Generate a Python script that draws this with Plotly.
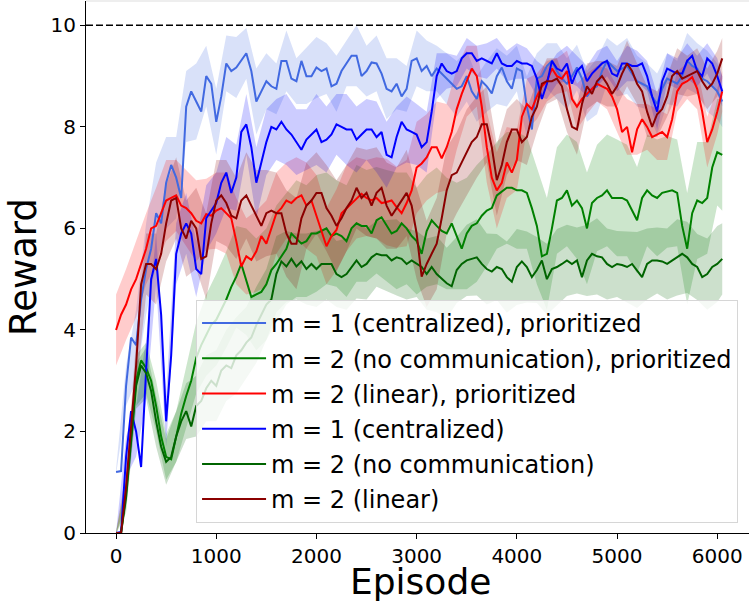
import plotly.graph_objects as go

# ---------------- data ----------------
EPISODE_STEP = 50          # mean curves sampled every 50 episodes (0 .. 6050)
X_TICKS = [0, 1000, 2000, 3000, 4000, 5000, 6000]
Y_TICKS = [0, 2, 4, 6, 8, 10]
TARGET_REWARD = 10

LABELS = [
    "m = 1 (centralized), prioritized",
    "m = 2 (no communication), prioritized",
    "m = 2 (linear), prioritized",
    "m = 1 (centralized)",
    "m = 2 (no communication)",
    "m = 2 (linear)",
]
COLORS = ["#4169E1", "#008000", "#FF0000", "#0000FF", "#006400", "#8B0000"]

central_prio = [
    1.2, 1.22, 2.9, 3.85, 3.7, 4.6, 5.2, 5.6, 6.3, 6.1,
    6.9, 7.25, 7.0, 6.6, 8.4, 8.7, 8.5, 8.3, 9.0, 8.85,
    8.1, 8.6, 9.25, 9.1, 9.17, 9.3, 9.45, 9.1, 8.5, 8.7,
    8.9, 8.8, 8.75, 9.3, 9.3, 8.95, 8.9, 9.3, 9.0, 9.0,
    9.17, 9.1, 9.15, 8.8, 8.85, 9.1, 9.25, 9.4, 9.4, 9.0,
    9.1, 9.27, 9.25, 9.05, 8.75, 8.7, 8.85, 8.6, 8.75, 9.3,
    9.35, 9.1, 9.2, 9.0, 9.15, 9.05, 8.95, 8.85, 8.75, 8.8,
    9.0, 8.7, 8.55, 8.9, 8.8, 8.66, 9.0, 9.17, 8.9, 8.75,
    9.15, 9.1, 8.4, 7.95, 8.95, 9.0, 9.2, 9.3, 9.1, 8.95,
    8.85, 9.0, 9.17, 8.95, 8.6, 8.75, 8.8, 9.1, 9.3, 9.2,
    9.1, 9.15, 9.2, 9.05, 8.9, 8.85, 8.8, 8.6, 8.45, 8.75,
    8.95, 8.9, 8.85, 9.0, 9.3, 9.2, 9.15, 8.95, 8.9, 8.8,
    8.7, 8.5,
]
nocomm_prio = [
    0.0, 0.0, 0.8, 1.9, 3.0, 3.4, 3.25, 3.0, 2.5, 1.9,
    1.5, 1.45, 1.9, 2.35, 2.7, 3.0, 3.45, 3.7, 3.9, 4.1,
    4.2, 4.4, 4.6, 4.85, 5.05, 5.3, 4.95, 4.65, 4.7, 4.75,
    4.9, 5.18, 5.3, 5.45, 5.6, 5.9, 5.8, 5.7, 5.75, 5.9,
    5.9, 5.95, 6.0, 5.85, 5.9, 5.85, 5.75, 6.0, 6.1, 6.05,
    6.05, 5.9, 6.16, 6.22, 6.05, 5.9, 5.95, 6.1, 6.0, 5.85,
    5.75, 5.5, 5.95, 6.16, 6.05, 5.95, 5.9, 6.1, 5.85, 5.6,
    5.9, 6.05, 6.1, 6.25, 6.35, 6.4, 6.65, 6.72, 6.8, 6.8,
    6.75, 6.75, 6.7, 6.4, 6.05, 5.45, 5.5, 6.0, 6.55, 6.6,
    6.75, 6.45, 6.55, 6.4, 6.0, 6.5, 6.6, 6.65, 6.75, 6.6,
    6.6, 6.6, 6.55, 6.35, 6.16, 6.6, 6.75, 6.65, 6.6, 6.7,
    6.72, 6.75, 6.7, 6.05, 5.6, 6.3, 6.55, 6.5, 6.6, 7.2,
    7.5, 7.45,
]
linear_prio = [
    4.0, 4.3, 4.5, 4.8, 5.0, 5.3, 5.6, 6.0, 6.05, 6.3,
    6.55, 6.6, 6.65, 6.45, 6.4, 6.3, 6.15, 6.1, 6.28, 6.25,
    6.35, 6.4, 6.3, 6.2, 5.75, 5.25, 5.45, 5.38, 5.55, 5.85,
    5.7, 6.0, 6.3, 6.4, 6.55, 6.5, 6.6, 6.65, 6.45, 6.55,
    6.25, 5.95, 5.65, 5.85, 5.97, 6.3, 6.4, 6.5, 6.6, 6.68,
    6.6, 6.55, 6.6, 6.5, 6.52, 6.55, 6.42, 6.3, 6.5, 6.75,
    7.2, 7.28, 7.4, 7.6, 7.6, 7.38, 7.6, 7.9, 8.35, 8.65,
    8.9, 9.15, 9.0, 8.4, 7.6, 7.0, 6.75, 6.9, 7.3, 7.1,
    7.35, 8.2, 8.45, 8.35, 8.6, 8.8, 8.9, 9.15, 9.0, 8.95,
    9.1, 8.55, 8.4, 8.55, 8.65, 8.75, 8.85, 8.8, 8.75, 8.6,
    8.35, 7.9, 8.0, 7.5, 7.95, 8.15, 8.0, 7.8, 7.85, 7.9,
    7.8, 8.15, 8.7, 8.85, 8.9, 8.98, 8.75, 8.3, 7.7, 7.95,
    8.3, 8.7,
]
central = [
    0.0, 0.02, 1.5, 2.4, 2.0, 1.3, 3.2, 5.0, 5.4, 4.3,
    2.2, 3.5, 5.5, 5.9, 6.1, 5.9, 5.2, 5.1, 6.2, 6.35,
    6.5, 6.9, 7.1, 6.7, 7.0, 7.9, 8.05, 7.6, 6.9, 7.3,
    7.7, 8.0, 7.95, 8.1, 7.95, 7.85, 7.7, 7.55, 7.75, 7.85,
    7.95, 7.7, 7.75, 7.85, 8.05, 8.0, 7.95, 7.95, 7.75, 7.85,
    7.95, 7.95, 7.8, 7.9, 7.45, 7.4, 7.8, 8.1, 7.95, 7.9,
    7.85, 7.6, 7.7, 8.3, 9.0, 9.25, 9.1, 9.05, 9.1, 9.35,
    9.45, 9.45, 9.3, 9.35, 9.3, 9.25, 9.45, 9.25, 9.2, 9.2,
    9.3, 9.25, 9.25, 9.2, 8.95, 8.55, 8.85, 9.3, 9.15, 9.1,
    9.25, 8.85, 9.1, 9.2, 8.9, 9.05, 9.15, 9.25, 9.3, 9.05,
    9.0, 9.25, 9.25, 9.2, 9.2, 9.25, 9.0, 8.6, 8.3, 8.9,
    9.15, 9.1, 9.05, 9.05, 9.3, 9.4, 9.1, 9.0, 9.35, 9.25,
    9.0, 8.7,
]
nocomm = [
    0.0, 0.0, 0.7, 1.8, 2.9, 3.3, 3.15, 2.8, 2.2, 1.7,
    1.4, 1.5, 1.9, 2.2, 2.4, 2.1, 2.5, 2.6, 2.85, 3.0,
    2.9, 3.2, 3.3, 3.25, 3.5, 3.6, 3.75, 3.85, 4.1, 4.3,
    4.5, 4.6, 5.1, 5.35, 5.25, 5.4, 5.25, 5.35, 5.2, 5.3,
    5.2, 5.3, 5.3, 5.3, 5.1, 5.04, 5.1, 5.24, 5.37, 5.24,
    5.3, 5.43, 5.5, 5.47, 5.47, 5.37, 5.43, 5.4, 5.3, 5.37,
    5.3, 5.24, 5.1, 5.24, 5.1, 5.0, 4.92, 4.86, 5.18, 5.3,
    5.37, 5.4, 5.43, 5.3, 5.2, 5.15, 5.24, 5.2, 5.04, 4.95,
    5.24, 5.35, 5.24, 5.04, 5.18, 5.37, 5.0, 5.2, 5.24, 5.3,
    5.37, 5.3, 5.37, 5.04, 5.37, 5.5, 5.45, 5.43, 5.3, 5.24,
    5.3, 5.28, 5.24, 5.3, 5.18, 5.04, 5.3, 5.37, 5.37, 5.35,
    5.3, 5.37, 5.43, 5.5, 5.43, 5.3, 5.24, 5.04, 5.1, 5.24,
    5.3, 5.4,
]
linear = [
    0.0, 0.0, 0.9, 2.1, 3.3, 4.9, 5.3, 5.3, 5.2, 5.5,
    6.1, 6.55, 6.6, 6.0, 5.8, 6.15, 6.0, 5.4, 5.45, 6.1,
    6.55, 6.65, 6.5, 6.25, 6.2, 6.55, 6.65, 6.45, 6.25, 6.05,
    6.3, 6.35, 6.3, 6.3, 5.9, 5.7, 5.7, 6.2, 6.45, 6.55,
    6.7, 6.7, 6.4, 6.25, 6.05, 6.2, 6.4, 6.55, 6.8, 6.6,
    6.7, 6.45, 6.7, 6.8, 6.45, 6.25, 6.4, 6.55, 6.7, 6.45,
    5.9, 5.05, 5.3, 5.5, 5.7, 6.2, 6.75, 7.05, 7.1, 7.3,
    7.5, 7.7, 7.8, 8.05, 8.05, 7.6, 6.95, 7.25, 7.7, 7.95,
    7.95, 7.7, 7.8, 8.2, 8.4, 8.85, 8.9, 8.9, 8.95, 8.8,
    8.35, 8.0, 7.95, 8.45, 8.8, 8.65, 8.9, 9.0, 8.85, 8.65,
    8.8, 9.05, 9.25, 9.1, 8.85, 8.7, 8.3, 8.0, 8.25, 8.35,
    8.6, 9.0, 9.1, 8.95, 9.0, 9.05, 9.1, 8.9, 8.75, 8.85,
    9.05, 9.35,
]

# spread (std) of each curve, every 100 episodes (0 .. 6000) plus the last point
central_prio_sd = [
    0.05, 0.4, 0.7, 0.9, 1.0, 0.9, 0.8, 0.7, 0.75, 0.6,
    0.65, 0.55, 0.6, 0.5, 0.65, 0.55, 0.5, 0.6, 0.45, 0.55,
    0.6, 0.5, 0.55, 0.45, 0.6, 0.5, 0.55, 0.6, 0.5, 0.45,
    0.55, 0.5, 0.45, 0.5, 0.55, 0.5, 0.45, 0.5, 0.55, 0.5,
    0.45, 0.6, 0.5, 0.45, 0.55, 0.5, 0.45, 0.5, 0.55, 0.45,
    0.5, 0.55, 0.5, 0.45, 0.6, 0.5, 0.45, 0.55, 0.5, 0.6,
    0.55, 0.5,
]
nocomm_prio_sd = [
    0.02, 0.3, 0.5, 0.5, 0.5, 0.45, 0.5, 0.6, 0.7, 0.8,
    0.9, 0.95, 1.0, 1.05, 1.1, 1.1, 1.15, 1.1, 1.15, 1.1,
    1.15, 1.1, 1.05, 1.1, 1.15, 1.1, 1.05, 1.1, 1.15, 1.1,
    1.05, 1.1, 1.15, 1.1, 1.05, 1.1, 1.15, 1.1, 1.05, 1.1,
    1.15, 1.1, 1.15, 1.1, 1.05, 1.1, 1.15, 1.1, 1.05, 1.1,
    1.15, 1.1, 1.05, 1.1, 1.15, 1.1, 1.05, 1.1, 1.15, 1.1,
    1.05, 1.1,
]
linear_prio_sd = [
    0.7, 0.7, 0.75, 0.7, 0.75, 0.8, 0.7, 0.75, 0.8, 0.7,
    0.75, 0.8, 0.85, 0.75, 0.8, 0.85, 0.8, 0.75, 0.8, 0.85,
    0.8, 0.75, 0.8, 0.85, 0.8, 0.75, 0.8, 0.85, 0.8, 0.85,
    0.9, 0.85, 0.9, 0.85, 0.8, 0.7, 0.6, 0.7, 0.75, 0.7,
    0.6, 0.5, 0.45, 0.4, 0.35, 0.4, 0.45, 0.4, 0.35, 0.4,
    0.45, 0.55, 0.5, 0.45, 0.5, 0.45, 0.4, 0.35, 0.4, 0.5,
    0.45, 0.4,
]
central_sd = [
    0.02, 0.4, 0.5, 0.6, 0.5, 0.5, 0.6, 0.6, 0.55, 0.65,
    0.6, 0.7, 0.65, 0.6, 0.7, 0.65, 0.6, 0.7, 0.65, 0.6,
    0.7, 0.65, 0.6, 0.7, 0.65, 0.6, 0.7, 0.65, 0.6, 0.65,
    0.6, 0.6, 0.45, 0.35, 0.3, 0.3, 0.3, 0.35, 0.3, 0.3,
    0.35, 0.3, 0.35, 0.3, 0.3, 0.35, 0.3, 0.3, 0.35, 0.3,
    0.3, 0.35, 0.3, 0.3, 0.35, 0.3, 0.3, 0.35, 0.3, 0.3,
    0.35, 0.3,
]
nocomm_sd = [
    0.02, 0.3, 0.45, 0.5, 0.5, 0.45, 0.5, 0.55, 0.6, 0.65,
    0.7, 0.7, 0.75, 0.7, 0.75, 0.7, 0.75, 0.7, 0.65, 0.7,
    0.75, 0.7, 0.65, 0.7, 0.75, 0.7, 0.65, 0.7, 0.75, 0.7,
    0.65, 0.7, 0.75, 0.7, 0.65, 0.7, 0.75, 0.7, 0.65, 0.7,
    0.75, 0.7, 0.65, 0.7, 0.75, 0.7, 0.65, 0.7, 0.75, 0.7,
    0.65, 0.7, 0.75, 0.7, 0.65, 0.7, 0.75, 0.7, 0.65, 0.7,
    0.75, 0.7,
]
linear_sd = [
    0.02, 0.3, 0.5, 0.6, 0.7, 0.75, 0.8, 0.75, 0.8, 0.85,
    0.8, 0.85, 0.8, 0.85, 0.9, 0.85, 0.8, 0.85, 0.9, 0.85,
    0.8, 0.85, 0.9, 0.85, 0.8, 0.85, 0.9, 0.85, 0.8, 0.85,
    0.9, 0.85, 0.9, 0.85, 0.8, 0.85, 0.8, 0.75, 0.7, 0.65,
    0.6, 0.55, 0.5, 0.45, 0.4, 0.45, 0.5, 0.45, 0.4, 0.45,
    0.4, 0.45, 0.4, 0.5, 0.45, 0.4, 0.45, 0.4, 0.45, 0.4,
    0.45, 0.4,
]

MEANS = [central_prio, nocomm_prio, linear_prio, central, nocomm, linear]
SDS = [central_prio_sd, nocomm_prio_sd, linear_prio_sd, central_sd, nocomm_sd, linear_sd]


def rgba(hex_color, alpha):
    h = hex_color.lstrip("#")
    r, g, b = int(h[0:2], 16), int(h[2:4], 16), int(h[4:6], 16)
    return f"rgba({r},{g},{b},{alpha})"


fig = go.Figure()

# shaded bands first (they sit below all lines, as in matplotlib)
for mean, sd, color in zip(MEANS, SDS, COLORS):
    n = len(mean)
    idx = list(range(0, n, 2))
    if idx[-1] != n - 1:
        idx.append(n - 1)
    m = min(len(idx), len(sd))
    idx = idx[:m]
    bx = [i * EPISODE_STEP for i in idx]
    bm = [mean[i] for i in idx]
    hi = [v + s for v, s in zip(bm, sd[:m])]
    lo = [v - s for v, s in zip(bm, sd[:m])]
    fig.add_trace(go.Scatter(
        x=bx + bx[::-1], y=hi + lo[::-1], fill="toself",
        fillcolor=rgba(color, 0.2), line=dict(width=0),
        mode="lines", showlegend=False, hoverinfo="skip"))

# mean curves
for k, (mean, label, color) in enumerate(zip(MEANS, LABELS, COLORS)):
    x = [i * EPISODE_STEP for i in range(len(mean))]
    fig.add_trace(go.Scatter(
        x=x, y=mean, mode="lines", name=label,
        line=dict(color=color, width=2), legendgroup=f"g{k}"))

fig.add_hline(y=TARGET_REWARD, line=dict(color="black", width=1.5, dash="7px,3px"))

# faint top border (clipped matplotlib frame)
fig.add_shape(type="line", xref="paper", yref="paper", x0=0, x1=1, y0=1, y1=1,
              line=dict(color="#dddddd", width=1))

FONT = "DejaVu Sans"

# x-axis title placed as an annotation just below the tick labels
fig.add_annotation(
    text="Episode", xref="paper", yref="paper", x=0.504, y=-0.05,
    xanchor="center", yanchor="top", showarrow=False, borderpad=0,
    font=dict(family=FONT, size=36, color="black"),
)

fig.update_layout(
    width=749, height=602,
    margin=dict(l=86, r=0, t=1, b=69),
    paper_bgcolor="white", plot_bgcolor="white",
    font=dict(family=FONT, color="black", size=20),
    showlegend=True,
    legend=dict(
        x=0.166, y=0.438, xanchor="left", yanchor="top",
        bgcolor="rgba(255,255,255,0.8)", bordercolor="#d6d6d6", borderwidth=1,
        font=dict(family=FONT, size=24, color="black"),
        tracegroupgap=1, itemwidth=64,
    ),
    xaxis=dict(
        range=[-300, 6317], tickvals=X_TICKS, ticktext=[str(v) for v in X_TICKS],
        showgrid=False, zeroline=False, showline=True, linecolor="black", linewidth=1,
        ticks="outside", ticklen=5, tickwidth=1, tickcolor="black", automargin=False,
        tickfont=dict(size=20),
    ),
    yaxis=dict(
        range=[0, 10.48], tickvals=Y_TICKS, ticktext=[str(v) for v in Y_TICKS],
        showgrid=False, zeroline=False, showline=True, linecolor="black", linewidth=1,
        ticks="outside", ticklen=5, tickwidth=1, tickcolor="black", automargin=False,
        tickfont=dict(size=20), title=dict(text="Reward", font=dict(size=37), standoff=2),
    ),
)

fig.write_html(
    "out.html",
    config={"displayModeBar": False},
    post_script="document.body.style.margin='0';document.body.style.overflow='hidden';",
)
